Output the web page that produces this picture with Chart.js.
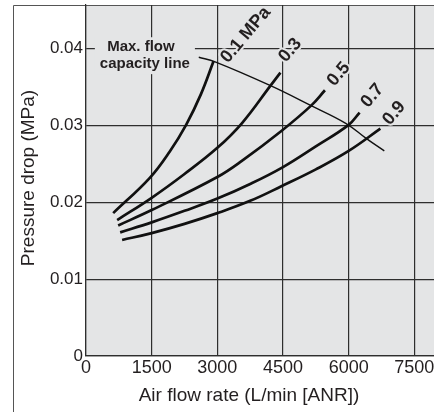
<!DOCTYPE html>
<html>
<head>
<meta charset="utf-8">
<script src="https://cdn.jsdelivr.net/npm/chart.js@4.4.1/dist/chart.umd.min.js"></script>
<style>
  html, body { margin: 0; padding: 0; background: #fff; overflow: hidden; }
</style>
</head>
<body>
<canvas id="chart" width="480" height="412"></canvas>
<script>
// axis ticks
const xTicks = [0, 1500, 3000, 4500, 6000, 7500];
const yTicks = [0, 0.01, 0.02, 0.03, 0.04];

// curve names (set pressure)
const pressures = ['0.1 MPa', '0.3', '0.5', '0.7', '0.9'];

// air flow rate (L/min [ANR]) / pressure drop (MPa)
const flow01 = [621, 1458, 1910, 2287, 2626, 2915];
const drop01 = [0.0186, 0.0232, 0.0266, 0.0301, 0.0341, 0.0384];

const flow03 = [712, 1500, 2250, 3000, 3560, 4215, 4441];
const drop03 = [0.0177, 0.0206, 0.0237, 0.0271, 0.0303, 0.0352, 0.0369];

const flow05 = [735, 1500, 3000, 3560, 4463, 5142, 5458];
const drop05 = [0.0170, 0.0190, 0.0233, 0.0254, 0.0293, 0.0326, 0.0346];

const flow07 = [780, 1500, 2250, 3000, 3750, 4500, 5250, 6000, 6250];
const drop07 = [0.0161, 0.0174, 0.0189, 0.0205, 0.0224, 0.0246, 0.0273, 0.0301, 0.0317];

const flow09 = [825, 1500, 2250, 3000, 3750, 4463, 5250, 6000, 6724];
const drop09 = [0.0151, 0.0160, 0.0172, 0.0186, 0.0202, 0.0221, 0.0243, 0.0267, 0.0296];

// max. flow capacity line
const flowMax = [2576, 2950, 4215, 5142, 5933, 6407, 6814];
const dropMax = [0.0389, 0.0383, 0.0352, 0.0326, 0.0303, 0.0283, 0.0267];

const PLOT_BG = '#e4e5e6';
const INK = '#231f20';
const GRID = '#2e2e2e';
const FONT = '"Liberation Sans", Arial, Helvetica, sans-serif';

function pts(xs, ys) {
    return xs.map((x, i) => ({ x: x, y: ys[i] }));
}

// where the curve labels sit (data units)
const curveLabelPos = [
    { x: 3650, y: 0.0418 },
    { x: 4667, y: 0.0398 },
    { x: 5774, y: 0.0367 },
    { x: 6543, y: 0.0339 },
    { x: 7040, y: 0.0316 }
];
const captionPos = [
    { text: 'Max. flow', x: 1254, y: 0.0402 },
    { text: 'capacity line', x: 1345, y: 0.0380 }
];

const bgPlugin = {
    id: 'bg',
    beforeDraw(chart) {
        const { ctx, chartArea: a } = chart;
        ctx.save();
        ctx.fillStyle = PLOT_BG;
        ctx.fillRect(a.left, a.top, a.right - a.left, a.bottom - a.top);
        ctx.strokeStyle = '#555';
        ctx.lineWidth = 1;
        ctx.beginPath();
        ctx.moveTo(13.5, chart.height);
        ctx.lineTo(13.5, 5.5);
        ctx.lineTo(chart.width, 5.5);
        ctx.stroke();
        ctx.restore();
    }
};

const labelPlugin = {
    id: 'labels',
    afterDatasetsDraw(chart) {
        const { ctx } = chart;
        const xs = chart.scales.x, ys = chart.scales.y;
        ctx.save();
        ctx.textAlign = 'center';
        ctx.textBaseline = 'middle';
        ctx.lineJoin = 'round';

        // caption box covering the gridline
        ctx.font = 'bold 15px ' + FONT;
        let l = Infinity, r = -Infinity;
        captionPos.forEach(c => {
            const w = ctx.measureText(c.text).width;
            const px = xs.getPixelForValue(c.x);
            l = Math.min(l, px - w / 2);
            r = Math.max(r, px + w / 2);
        });
        const t = ys.getPixelForValue(captionPos[0].y) - 10;
        const b = ys.getPixelForValue(captionPos[1].y) + 10;
        ctx.fillStyle = PLOT_BG;
        ctx.fillRect(l - 5, t, r - l + 10, b - t);
        ctx.fillStyle = INK;
        captionPos.forEach(c => {
            ctx.fillText(c.text, xs.getPixelForValue(c.x), ys.getPixelForValue(c.y));
        });

        // pressure labels
        ctx.font = 'bold 18px ' + FONT;
        pressures.forEach((txt, i) => {
            const p = curveLabelPos[i];
            ctx.save();
            ctx.translate(xs.getPixelForValue(p.x), ys.getPixelForValue(p.y));
            ctx.rotate(-50 * Math.PI / 180);
            ctx.strokeStyle = PLOT_BG;
            ctx.lineWidth = 4;
            ctx.strokeText(txt, 0, 0);
            ctx.fillStyle = INK;
            ctx.fillText(txt, 0, 0);
            ctx.restore();
        });
        ctx.restore();
    },
    afterDraw(chart) {
        const { ctx } = chart;
        ctx.save();
        ctx.fillStyle = INK;
        ctx.font = '19px ' + FONT;
        ctx.textAlign = 'center';
        ctx.textBaseline = 'middle';
        ctx.fillText('Air flow rate (L/min [ANR])', 249, 396);
        ctx.translate(29, 178);
        ctx.rotate(-Math.PI / 2);
        ctx.fillText('Pressure drop (MPa)', 0, 0);
        ctx.restore();
    }
};

function curve(data, width) {
    return {
        data: data,
        borderColor: '#111',
        borderWidth: width,
        pointRadius: 0,
        tension: 0.4,
        fill: false
    };
}

new Chart(document.getElementById('chart'), {
    type: 'line',
    data: {
        datasets: [
            curve(pts(flow01, drop01), 2.7),
            curve(pts(flow03, drop03), 2.7),
            curve(pts(flow05, drop05), 2.7),
            curve(pts(flow07, drop07), 2.7),
            curve(pts(flow09, drop09), 2.7),
            curve(pts(flowMax, dropMax), 1.4)
        ]
    },
    options: {
        responsive: false,
        animation: false,
        layout: { padding: { left: 0, top: 5, right: 0, bottom: 0 } },
        plugins: {
            legend: { display: false },
            tooltip: { enabled: false }
        },
        scales: {
            x: {
                type: 'linear',
                min: 0,
                max: 9000,
                afterBuildTicks: s => { s.ticks = xTicks.map(v => ({ value: v })); },
                afterFit: s => { s.height = 56; s.paddingLeft = 0; s.paddingRight = 0; },
                grid: { color: GRID, lineWidth: 1.2, drawTicks: false },
                border: { display: true, color: GRID, width: 1.2 },
                ticks: {
                    padding: 1,
                    color: INK,
                    font: { family: FONT, size: 18 },
                    maxRotation: 0,
                    callback: v => String(v)
                }
            },
            y: {
                type: 'linear',
                min: 0,
                max: 0.0457,
                afterBuildTicks: s => { s.ticks = yTicks.map(v => ({ value: v })); },
                afterFit: s => { s.width = 86; s.paddingTop = 0; s.paddingBottom = 0; },
                grid: { color: GRID, lineWidth: 1.2, drawTicks: false },
                border: { display: true, color: GRID, width: 1.2 },
                ticks: {
                    padding: 3,
                    color: INK,
                    font: { family: FONT, size: 17 },
                    callback: v => String(v)
                }
            }
        }
    },
    plugins: [bgPlugin, labelPlugin]
});
</script>
</body>
</html>
